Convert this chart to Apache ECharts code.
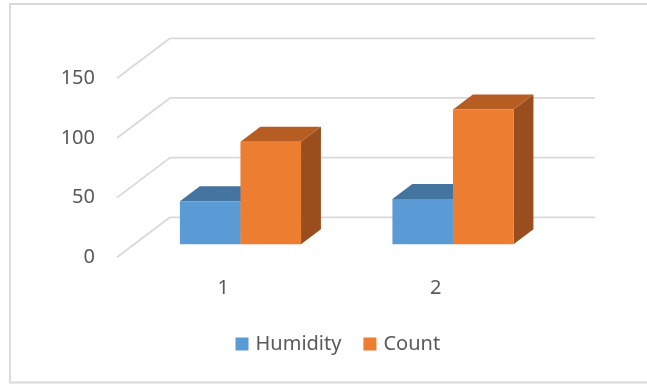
<!DOCTYPE html>
<html>
<head>
<meta charset="utf-8">
<script src="https://cdn.jsdelivr.net/npm/echarts@6/dist/echarts.min.js"></script>
<style>
  html, body { margin: 0; padding: 0; background: #ffffff; }
  #chart { width: 647px; height: 385px; }
</style>
</head>
<body>
<div id="chart"></div>
<script>
// Chart data
const categories = ['1', '2'];
const humidity = [36, 38];
const count = [86, 113];
const yMin = 0;
const yMax = 150;
const yStep = 50;

// Oblique depth of the plot box (pixels from front plane to back wall)
const WALL_DX = 53;
const WALL_DY = -40;
// Bars sit between these fractions of the depth
const BAR_FRONT = 0.325;
const BAR_BACK = 0.70;
// Bar width as a share of one category band
const BAR_SHARE = 0.285;

const GRID_COLOR = '#d9d9d9';
const TEXT_COLOR = '#595959';
const FONT = 'Noto Sans';

const wallTicks = [];
for (let v = yMin; v <= yMax; v += yStep) wallTicks.push([0, v]);

function renderWall(params, api) {
  const cs = params.coordSys;
  const y = api.coord([0, api.value(1)])[1];
  const x0 = cs.x;
  const bx = x0 + WALL_DX, by = y + WALL_DY;
  const style = { stroke: GRID_COLOR, lineWidth: 1.8 };
  return {
    type: 'group',
    children: [
      { type: 'line', shape: { x1: x0, y1: y, x2: bx, y2: by }, style },
      { type: 'line', shape: { x1: bx, y1: by, x2: cs.x + cs.width + WALL_DX, y2: by }, style }
    ]
  };
}

function makeBarRenderer(slot, colors) {
  return function (params, api) {
    const cat = api.value(0);
    const val = api.value(1);
    const base = api.coord([cat, 0]);
    const top = api.coord([cat, val]);
    const band = api.size([1, 0])[0];
    const w = band * BAR_SHARE;
    const fx = BAR_FRONT * WALL_DX, fy = BAR_FRONT * WALL_DY;
    const dx = (BAR_BACK - BAR_FRONT) * WALL_DX, dy = (BAR_BACK - BAR_FRONT) * WALL_DY;
    const xl = base[0] + fx + slot * w;
    const xr = xl + w;
    const yb = base[1] + fy;
    const yt = top[1] + fy;
    return {
      type: 'group',
      children: [
        { type: 'polygon', shape: { points: [[xr, yb], [xr + dx, yb + dy], [xr + dx, yt + dy], [xr, yt]] },
          style: { fill: colors.side } },
        { type: 'polygon', shape: { points: [[xl, yt], [xr, yt], [xr + dx, yt + dy], [xl + dx, yt + dy]] },
          style: { fill: colors.top } },
        { type: 'rect', shape: { x: xl, y: yt, width: w, height: yb - yt },
          style: { fill: colors.front } }
      ]
    };
  };
}

const humidityColors = { front: '#5b9bd5', top: '#4475a1', side: '#3a6489' };
const countColors = { front: '#ed7d31', top: '#b55d22', side: '#9a4d1d' };

const chart = echarts.init(document.getElementById('chart'), null, { renderer: 'canvas' });
chart.setOption({
  animation: false,
  backgroundColor: '#ffffff',
  graphic: [{
    type: 'rect',
    shape: { x: 10, y: 4, width: 700, height: 378.5 },
    style: { fill: 'none', stroke: GRID_COLOR, lineWidth: 1.8 },
    silent: true,
    z: -10
  }],
  grid: { left: 117, top: 78.3, right: 105, bottom: 127.7 },
  xAxis: {
    type: 'category',
    data: categories,
    axisLine: { show: false },
    axisTick: { show: false },
    splitLine: { show: false },
    axisLabel: { color: TEXT_COLOR, fontFamily: FONT, fontSize: 20, margin: 21 }
  },
  yAxis: {
    type: 'value',
    min: yMin,
    max: yMax,
    interval: yStep,
    axisLine: { show: false },
    axisTick: { show: false },
    splitLine: { show: false },
    axisLabel: { color: TEXT_COLOR, fontFamily: FONT, fontSize: 20, margin: 22 }
  },
  legend: {
    data: ['Humidity', 'Count'],
    left: 235.5,
    top: 334,
    padding: 0,
    icon: 'rect',
    itemWidth: 13,
    itemHeight: 13,
    itemGap: 22,
    textStyle: { color: TEXT_COLOR, fontFamily: FONT, fontSize: 20, padding: [0, 0, 0, 2] }
  },
  series: [
    {
      type: 'custom',
      name: 'wall',
      silent: true,
      z: 1,
      data: wallTicks,
      renderItem: renderWall
    },
    {
      type: 'custom',
      name: 'Humidity',
      z: 2,
      itemStyle: { color: humidityColors.front },
      data: humidity.map((v, i) => [i, v]),
      renderItem: makeBarRenderer(-1, humidityColors)
    },
    {
      type: 'custom',
      name: 'Count',
      z: 3,
      itemStyle: { color: countColors.front },
      data: count.map((v, i) => [i, v]),
      renderItem: makeBarRenderer(0, countColors)
    }
  ]
});
</script>
</body>
</html>
